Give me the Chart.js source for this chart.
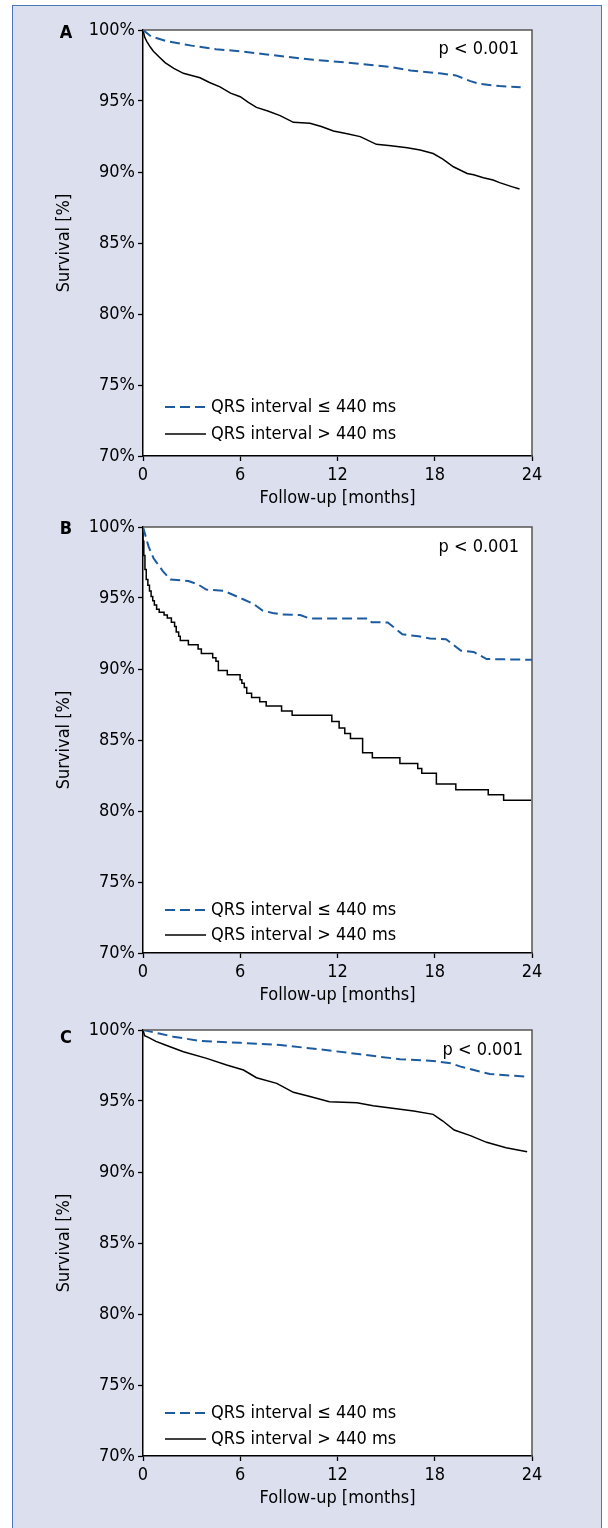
<!DOCTYPE html>
<html>
<head>
<meta charset="utf-8">
<script src="https://cdn.jsdelivr.net/npm/chart.js"></script>
<style>
  body { margin: 0; background: #fff; width: 608px; height: 1528px; position: relative; overflow: hidden; }
  #frame { position: absolute; left: 12px; top: 5px; width: 588px; height: 1540px; background: #dcdfee; border: 1.5px solid #4a78b8; }
  canvas { position: absolute; left: 0; }
</style>
</head>
<body>
<div id="frame"></div>
<canvas id="chartA" width="608" height="520" style="top:0px"></canvas>
<canvas id="chartB" width="608" height="520" style="top:497px"></canvas>
<canvas id="chartC" width="608" height="520" style="top:1000px"></canvas>
<script>
// tick labels + legend text
const xTicks = [0, 6, 12, 18, 24];
const yTicks = [70, 75, 80, 85, 90, 95, 100];
const seriesNames = ["QRS interval \u2264 440 ms", "QRS interval > 440 ms"];
const panelLetters = ["A", "B", "C"];
const pText = "p < 0.001";

// panel A
const aShortX = [0, 0.5, 1.5, 3.0, 4.5, 6.0, 7.5, 9.0, 10.5, 12.2, 13.5, 15.2, 16.5, 18.3, 19.3, 20.2, 20.8, 22.0, 23.3];
const aShortY = [100, 99.55, 99.2, 98.9, 98.65, 98.5, 98.3, 98.1, 97.9, 97.75, 97.6, 97.4, 97.15, 96.95, 96.8, 96.4, 96.2, 96.05, 95.96];
const aLongX = [0, 0.1, 0.23, 0.45, 0.64, 1.0, 1.36, 1.9, 2.49, 3.0, 3.52, 4.1, 4.75, 5.4, 6.0, 6.5, 7.0, 7.7, 8.46, 9.28, 10.3, 11.0, 11.75, 12.6, 13.4, 14.4, 15.3, 16.3, 17.1, 17.9, 18.5, 19.15, 20.0, 20.4, 21.0, 21.6, 22.0, 22.8, 23.23];
const aLongY = [100, 99.5, 99.2, 98.8, 98.5, 98.1, 97.7, 97.3, 96.95, 96.8, 96.64, 96.3, 96.0, 95.55, 95.3, 94.9, 94.55, 94.3, 93.97, 93.5, 93.43, 93.2, 92.89, 92.7, 92.49, 91.95, 91.85, 91.7, 91.55, 91.3, 90.9, 90.37, 89.9, 89.8, 89.6, 89.44, 89.25, 88.95, 88.8];

// panel B
const bShortX = [0, 0.35, 0.65, 1.25, 1.7, 2.8, 3.4, 3.9, 5.0, 6.0, 6.8, 7.4, 8.0, 8.5, 9.7, 10.3, 13.9, 14.1, 15.1, 16.0, 17.0, 17.7, 18.7, 19.6, 20.4, 21.2, 24];
const bShortY = [100, 98.6, 97.8, 96.85, 96.3, 96.2, 95.95, 95.6, 95.5, 95.0, 94.6, 94.1, 93.95, 93.85, 93.8, 93.55, 93.55, 93.3, 93.28, 92.45, 92.3, 92.15, 92.1, 91.3, 91.2, 90.7, 90.65];
const bLongX = [0, 0.05, 0.12, 0.2, 0.3, 0.4, 0.5, 0.6, 0.7, 0.84, 1.0, 1.3, 1.5, 1.75, 1.95, 2.05, 2.2, 2.3, 2.8, 3.4, 3.6, 4.3, 4.5, 4.65, 5.2, 5.99, 6.1, 6.25, 6.4, 6.7, 7.2, 7.6, 8.55, 9.2, 11.65, 12.1, 12.45, 12.8, 13.55, 14.15, 15.85, 16.95, 17.2, 18.1, 19.3, 21.3, 22.25, 23.75, 23.95];
const bLongY = [100, 99.0, 98.0, 97.0, 96.3, 95.9, 95.5, 95.1, 94.8, 94.5, 94.2, 94.0, 93.8, 93.6, 93.3, 93.0, 92.6, 92.3, 92.0, 91.7, 91.4, 91.1, 90.8, 90.55, 89.9, 89.6, 89.25, 89.0, 88.7, 88.3, 88.0, 87.7, 87.4, 87.05, 86.75, 86.3, 85.85, 85.45, 85.1, 84.1, 83.75, 83.35, 83.0, 82.65, 81.9, 81.5, 81.15, 80.75, 80.75];

// panel C
const cShortX = [0, 1.0, 1.87, 3.52, 6.0, 8.46, 10.9, 13.4, 15.86, 17.9, 19.0, 19.6, 21.4, 23.6];
const cShortY = [100, 99.75, 99.53, 99.23, 99.1, 98.94, 98.64, 98.29, 97.94, 97.82, 97.65, 97.42, 96.9, 96.71];
const cLongX = [0, 0.1, 0.3, 0.8, 1.38, 2.49, 3.93, 5.16, 6.2, 7.0, 8.25, 9.28, 10.3, 11.5, 13.2, 14.2, 16.7, 17.9, 18.5, 19.2, 20.2, 21.2, 22.4, 23.7];
const cLongY = [100, 99.6, 99.5, 99.2, 98.94, 98.47, 98.0, 97.54, 97.18, 96.64, 96.24, 95.61, 95.31, 94.95, 94.88, 94.67, 94.3, 94.06, 93.59, 92.96, 92.56, 92.09, 91.71, 91.43];

const FONT = "'DejaVu Sans Condensed', 'Liberation Sans', sans-serif";
const FS = 18;
const BLUE = "#1c5b9f";

function pts(xs, ys) {
  return xs.map((x, i) => ({ x: x, y: ys[i] }));
}

// white plot + grey top/right frame
const plotBox = {
  id: "plotBox",
  beforeDraw(chart) {
    const a = chart.chartArea, ctx = chart.ctx;
    ctx.save();
    ctx.fillStyle = "#fff";
    ctx.fillRect(a.left, a.top, a.right - a.left, a.bottom - a.top);
    ctx.restore();
  },
  afterDraw(chart) {
    const a = chart.chartArea, ctx = chart.ctx;
    ctx.save();
    ctx.strokeStyle = "#555";
    ctx.lineWidth = 1.5;
    ctx.beginPath();
    ctx.moveTo(a.left, a.top);
    ctx.lineTo(a.right, a.top);
    ctx.lineTo(a.right, a.bottom);
    ctx.stroke();
    ctx.restore();
  }
};

// letter, p value and the legend inside the plot
const panelText = {
  id: "panelText",
  afterDraw(chart, args, o) {
    const ctx = chart.ctx;
    ctx.save();
    ctx.fillStyle = "#000";
    ctx.textBaseline = "middle";
    ctx.font = "bold " + FS + "px " + FONT;
    ctx.textAlign = "center";
    ctx.fillText(o.letter, 66, o.letterY);
    ctx.font = FS + "px " + FONT;
    ctx.textAlign = "right";
    ctx.fillText(pText, o.pX, o.pY);
    ctx.textAlign = "left";
    chart.data.datasets.forEach((ds, i) => {
      const y = o.legY[i];
      ctx.strokeStyle = ds.borderColor;
      ctx.lineWidth = ds.borderWidth;
      ctx.setLineDash(ds.borderDash || []);
      ctx.beginPath();
      ctx.moveTo(165, y);
      ctx.lineTo(206, y);
      ctx.stroke();
      ctx.setLineDash([]);
      ctx.fillText(ds.label, 211, y);
    });
    ctx.restore();
  }
};

function makeChart(id, letterIdx, sx, sy, lx, ly, o) {
  new Chart(document.getElementById(id), {
    type: "line",
    data: {
      datasets: [
        { label: seriesNames[0], data: pts(sx, sy), borderColor: BLUE, borderWidth: 2, borderDash: [10, 5], pointRadius: 0, tension: 0 },
        { label: seriesNames[1], data: pts(lx, ly), borderColor: "#000", borderWidth: 1.5, pointRadius: 0, tension: 0, stepped: o.stepped || false }
      ]
    },
    options: {
      responsive: false,
      animation: false,
      layout: { padding: { top: 30, right: 76, left: 0, bottom: 0 } },
      plugins: {
        legend: { display: false },
        tooltip: { enabled: false },
        panelText: { letter: panelLetters[letterIdx], letterY: o.letterY, pX: o.pX, pY: o.pY, legY: o.legY }
      },
      scales: {
        x: {
          type: "linear", min: 0, max: 24,
          afterBuildTicks: s => { s.ticks = xTicks.map(v => ({ value: v })); },
          afterFit: s => { s.height = 64; },
          ticks: { color: "#000", font: { family: FONT, size: FS }, padding: 4, maxRotation: 0, autoSkip: false },
          grid: { drawOnChartArea: false, drawTicks: true, tickLength: 5, tickColor: "#000", tickWidth: 1.3 },
          border: { display: true, color: "#000", width: 1.5 },
          title: { display: true, text: "Follow-up [months]", color: "#000", font: { family: FONT, size: FS }, padding: { top: 0, bottom: 11 } }
        },
        y: {
          type: "linear", min: 70, max: 100,
          afterBuildTicks: s => { s.ticks = yTicks.map(v => ({ value: v })); },
          afterFit: s => { s.width = 143; },
          ticks: { color: "#000", font: { family: FONT, size: FS }, padding: 3, callback: v => v + "%" },
          grid: { drawOnChartArea: false, drawTicks: true, tickLength: 5, tickColor: "#000", tickWidth: 1.3 },
          border: { display: true, color: "#000", width: 1.5 },
          title: { display: true, text: "Survival [%]", color: "#000", font: { family: FONT, size: FS }, padding: { top: 54, bottom: 0 } }
        }
      }
    },
    plugins: [plotBox, panelText]
  });
}

makeChart("chartA", 0, aShortX, aShortY, aLongX, aLongY, { letterY: 33, pX: 519, pY: 49, legY: [407, 434] });
makeChart("chartB", 1, bShortX, bShortY, bLongX, bLongY, { letterY: 32, pX: 519, pY: 50, legY: [413, 438], stepped: "after" });
makeChart("chartC", 2, cShortX, cShortY, cLongX, cLongY, { letterY: 38, pX: 523, pY: 50, legY: [413, 439] });
</script>
</body>
</html>
